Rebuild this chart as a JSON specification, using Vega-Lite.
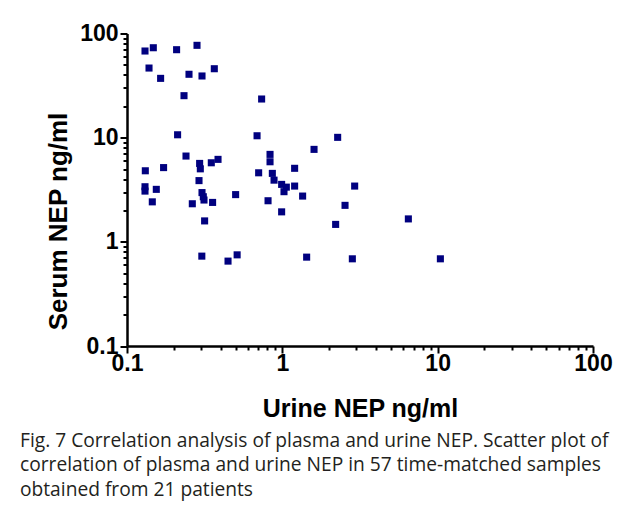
{
  "$schema": "https://vega.github.io/schema/vega-lite/v6.json",
  "width": 466,
  "height": 312.5,
  "autosize": "none",
  "padding": {"left": 127, "top": 33.5, "right": 40, "bottom": 169},
  "background": "white",
  "config": {
    "view": {"stroke": null},
    "axis": {"grid": false}
  },
  "title": {
    "text": ["Fig. 7 Correlation analysis of plasma and urine NEP. Scatter plot of", "correlation of plasma and urine NEP in 57 time-matched samples", "obtained from 21 patients"],
    "orient": "bottom",
    "anchor": "start",
    "frame": "group",
    "dx": -107,
    "offset": 10,
    "font": "Open Sans",
    "fontSize": 19.2,
    "fontWeight": "normal",
    "lineHeight": 24.5,
    "color": "#231f20"
  },
  "data": {
    "values": [
      {"urine": 0.1306, "serum": 67.9},
      {"urine": 0.1477, "serum": 73.0},
      {"urine": 0.1386, "serum": 46.6},
      {"urine": 0.1646, "serum": 37.1},
      {"urine": 0.2086, "serum": 69.9},
      {"urine": 0.2823, "serum": 77.0},
      {"urine": 0.2507, "serum": 40.6},
      {"urine": 0.304, "serum": 39.1},
      {"urine": 0.3648, "serum": 45.9},
      {"urine": 0.2328, "serum": 25.3},
      {"urine": 0.7357, "serum": 23.5},
      {"urine": 0.2117, "serum": 10.66},
      {"urine": 0.6875, "serum": 10.43},
      {"urine": 2.271, "serum": 10.07},
      {"urine": 0.2398, "serum": 6.66},
      {"urine": 1.6, "serum": 7.72},
      {"urine": 0.1312, "serum": 4.81},
      {"urine": 0.172, "serum": 5.16},
      {"urine": 0.2935, "serum": 5.66},
      {"urine": 0.2965, "serum": 5.02},
      {"urine": 0.3489, "serum": 5.74},
      {"urine": 0.3855, "serum": 6.19},
      {"urine": 0.8333, "serum": 6.91},
      {"urine": 0.8333, "serum": 5.87},
      {"urine": 0.704, "serum": 4.6},
      {"urine": 0.8623, "serum": 4.54},
      {"urine": 0.8843, "serum": 3.91},
      {"urine": 1.2, "serum": 5.08},
      {"urine": 0.9897, "serum": 3.56},
      {"urine": 1.061, "serum": 3.35},
      {"urine": 1.025, "serum": 3.03},
      {"urine": 1.2, "serum": 3.43},
      {"urine": 1.351, "serum": 2.75},
      {"urine": 2.922, "serum": 3.43},
      {"urine": 0.1306, "serum": 3.38},
      {"urine": 0.1306, "serum": 3.07},
      {"urine": 0.1544, "serum": 3.19},
      {"urine": 0.1455, "serum": 2.42},
      {"urine": 0.2633, "serum": 2.32},
      {"urine": 0.2908, "serum": 3.87},
      {"urine": 0.304, "serum": 2.97},
      {"urine": 0.3099, "serum": 2.71},
      {"urine": 0.3131, "serum": 2.52},
      {"urine": 0.3557, "serum": 2.39},
      {"urine": 0.5004, "serum": 2.84},
      {"urine": 0.316, "serum": 1.588},
      {"urine": 0.8091, "serum": 2.48},
      {"urine": 0.9897, "serum": 1.94},
      {"urine": 2.533, "serum": 2.24},
      {"urine": 2.204, "serum": 1.47},
      {"urine": 6.476, "serum": 1.66},
      {"urine": 0.3032, "serum": 0.729},
      {"urine": 0.4471, "serum": 0.653},
      {"urine": 0.5117, "serum": 0.75},
      {"urine": 1.434, "serum": 0.713},
      {"urine": 2.823, "serum": 0.687},
      {"urine": 10.41, "serum": 0.687}
    ]
  },
  "mark": {"type": "point", "shape": "square", "filled": true, "size": 50, "color": "#00007f", "opacity": 1},
  "encoding": {
    "x": {
      "field": "urine",
      "type": "quantitative",
      "scale": {"type": "log", "domain": [0.1, 100], "nice": false},
      "axis": {
        "title": "Urine NEP ng/ml",
        "values": [0.1,0.2,0.3,0.4,0.5,0.6,0.7,0.8,0.9,1,2,3,4,5,6,7,8,9,10,20,30,40,50,60,70,80,90,100],
        "format": "~g",
        "labelExpr": "(datum.value == 0.1 || datum.value == 1 || datum.value == 10 || datum.value == 100) ? datum.label : ''",
        "domainColor": "black",
        "domainWidth": 2.5,
        "tickColor": "black",
        "tickWidth": 2,
        "tickSize": {"condition": {"test": "datum.value == 0.1 || datum.value == 1 || datum.value == 10 || datum.value == 100", "value": 7}, "value": 4},
        "labelFont": "Liberation Sans",
        "labelFontWeight": "bold",
        "labelFontSize": 23,
        "labelColor": "black",
        "labelPadding": -1,
        "labelFlush": false,
        "labelOverlap": false,
        "titleFont": "Liberation Sans",
        "titleFontWeight": "bold",
        "titleFontSize": 25,
        "titleColor": "black",
        "titleBaseline": "alphabetic",
        "titleY": 70.7
      }
    },
    "y": {
      "field": "serum",
      "type": "quantitative",
      "scale": {"type": "log", "domain": [0.1, 100], "nice": false},
      "axis": {
        "title": "Serum NEP ng/ml",
        "values": [0.1,0.2,0.3,0.4,0.5,0.6,0.7,0.8,0.9,1,2,3,4,5,6,7,8,9,10,20,30,40,50,60,70,80,90,100],
        "format": "~g",
        "labelExpr": "(datum.value == 0.1 || datum.value == 1 || datum.value == 10 || datum.value == 100) ? datum.label : ''",
        "domainColor": "black",
        "domainWidth": 2.5,
        "tickColor": "black",
        "tickWidth": 2,
        "tickSize": {"condition": {"test": "datum.value == 0.1 || datum.value == 1 || datum.value == 10 || datum.value == 100", "value": 7}, "value": 4},
        "labelFont": "Liberation Sans",
        "labelFontWeight": "bold",
        "labelFontSize": 23,
        "labelColor": "black",
        "labelPadding": 2,
        "labelFlush": false,
        "labelOverlap": false,
        "titleFont": "Liberation Sans",
        "titleFontWeight": "bold",
        "titleFontSize": 26,
        "titleColor": "black",
        "titleAngle": 270,
        "titleAlign": "center",
        "titleBaseline": "alphabetic",
        "titleX": -61,
        "titleY": 187.5
      }
    }
  }
}
